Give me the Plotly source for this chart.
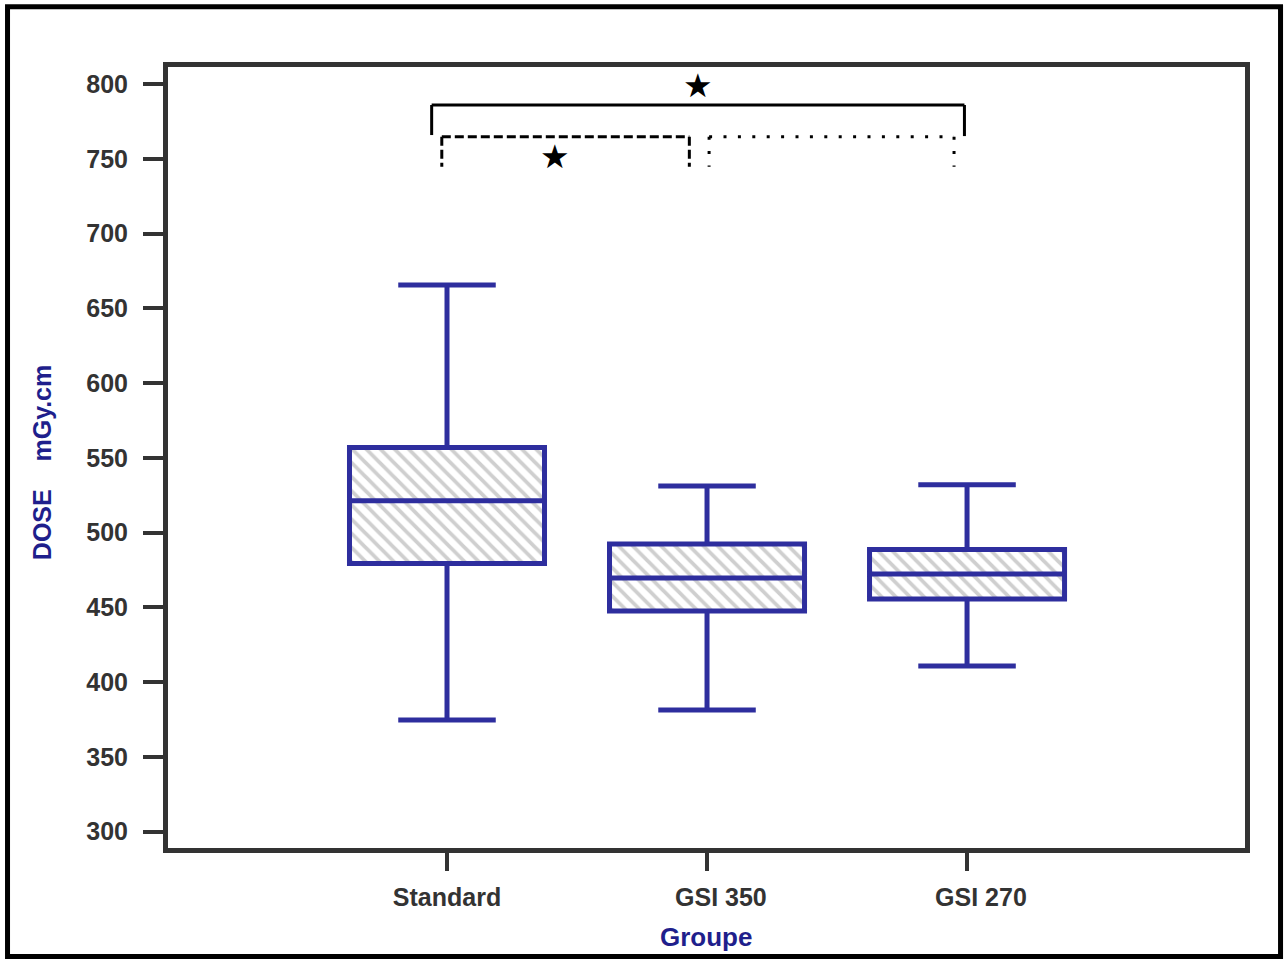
import plotly.graph_objects as go

# ---- data ----
groups = ["Standard", "GSI 350", "GSI 270"]
tick_text = ["Standard", "\u00a0\u00a0\u00a0\u00a0GSI 350", "\u00a0\u00a0\u00a0\u00a0GSI 270"]
lower_whisker = [374.7, 381.4, 410.8]
q1 = [479.3, 447.6, 455.6]
median = [521.3, 469.6, 472.3]
q3 = [556.9, 492.4, 488.7]
upper_whisker = [665.6, 531.2, 532.0]

y_ticks = [300, 350, 400, 450, 500, 550, 600, 650, 700, 750, 800]

# significance brackets: (x_left, x_right, y_top, y_bottom_left, y_bottom_right, dash)
brackets = [
    (-0.059, 1.990, 786.0, 765.9, 765.2, "solid"),
    (-0.020, 0.932, 764.8, 744.7, 744.7, "9px,4px"),
    (1.008, 1.950, 764.8, 744.7, 744.7, "3px,11.4px"),
]
stars = [(0.965, 798.7), (0.415, 751.4)]

BOX_COLOR = "#2e2e9e"
TITLE_COLOR = "#1f1f8c"
AXIS_COLOR = "#333333"
FONT = "Liberation Sans, Arial, sans-serif"

fig = go.Figure()

# hatched fill of the boxes
fig.add_trace(go.Bar(
    x=groups,
    y=[b - a for a, b in zip(q1, q3)],
    base=q1,
    width=0.75,
    marker=dict(
        color="white",
        line=dict(width=0),
        pattern=dict(shape="\\", fgcolor="#a0a0a0", bgcolor="white", size=10, solidity=0.38),
    ),
    hoverinfo="skip",
    showlegend=False,
))

fig.add_trace(go.Box(
    x=groups,
    q1=q1,
    median=median,
    q3=q3,
    lowerfence=lower_whisker,
    upperfence=upper_whisker,
    width=0.75,
    whiskerwidth=0.5,
    boxpoints=False,
    fillcolor="rgba(0,0,0,0)",
    line=dict(color=BOX_COLOR, width=5),
    showlegend=False,
))

shapes = []
for xl, xr, yt, ybl, ybr, dash in brackets:
    ln = dict(color="black", width=3, dash=dash)
    shapes.append(dict(type="line", xref="x", yref="y", x0=xl, x1=xr, y0=yt, y1=yt, line=ln))
    shapes.append(dict(type="line", xref="x", yref="y", x0=xl, x1=xl, y0=yt, y1=ybl, line=ln))
    shapes.append(dict(type="line", xref="x", yref="y", x0=xr, x1=xr, y0=yt, y1=ybr, line=ln))

# outer black frame
shapes.append(dict(type="rect", xref="paper", yref="paper",
                   x0=-0.149, x1=1.033, y0=-0.139, y1=1.077,
                   line=dict(color="black", width=5), layer="above"))

annotations = []
for sx, sy in stars:
    annotations.append(dict(x=sx, y=sy, xref="x", yref="y", text="★", showarrow=False,
                            font=dict(family="DejaVu Sans", size=33, color="black"),
                            xanchor="center", yanchor="middle"))

annotations.append(dict(x=-0.117, y=0.494, xref="paper", yref="paper",
                        text="DOSE\u00a0\u00a0\u00a0\u00a0mGy.cm", textangle=-90, showarrow=False,
                        font=dict(family=FONT, size=25, color=TITLE_COLOR, weight="bold"),
                        xanchor="center", yanchor="middle"))
annotations.append(dict(x=0.4995, y=-0.114, xref="paper", yref="paper",
                        text="Groupe", showarrow=False,
                        font=dict(family=FONT, size=26, color=TITLE_COLOR, weight="bold"),
                        xanchor="center", yanchor="middle"))

fig.update_layout(
    width=1288, height=959,
    margin=dict(l=168, r=43, t=67, b=111),
    paper_bgcolor="white", plot_bgcolor="white",
    barmode="overlay",
    shapes=shapes,
    annotations=annotations,
    showlegend=False,
    xaxis=dict(
        type="category",
        range=[-1.073, 3.069],
        tickmode="array", tickvals=groups, ticktext=tick_text,
        showgrid=False, zeroline=False,
        showline=True, linewidth=5, linecolor=AXIS_COLOR, mirror=True,
        ticks="outside", ticklen=18, tickwidth=4, tickcolor=AXIS_COLOR,
        ticklabelstandoff=5,
        tickfont=dict(family=FONT, size=25, color=AXIS_COLOR, weight="bold"),
        fixedrange=True,
    ),
    yaxis=dict(
        range=[289.1, 811.4],
        tickmode="array", tickvals=y_ticks,
        showgrid=False, zeroline=False,
        showline=True, linewidth=5, linecolor=AXIS_COLOR, mirror=True,
        ticks="outside", ticklen=20, tickwidth=4, tickcolor=AXIS_COLOR,
        ticklabelstandoff=10,
        tickfont=dict(family=FONT, size=25, color=AXIS_COLOR, weight="bold"),
        fixedrange=True,
    ),
)

fig.write_html(
    "out.html",
    config={"displayModeBar": False},
    post_script="document.body.style.margin='0';document.body.style.overflow='hidden';",
)
